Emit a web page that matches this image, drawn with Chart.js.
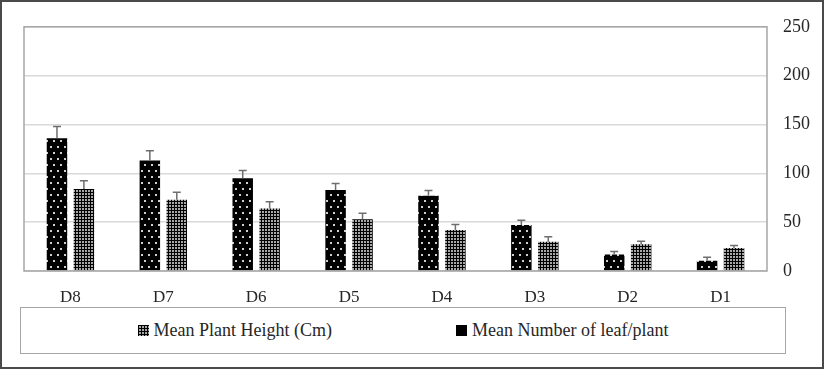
<!DOCTYPE html>
<html>
<head>
<meta charset="utf-8">
<script src="https://cdn.jsdelivr.net/npm/chart.js@4"></script>
<style>
  body { margin: 0; background: #fff; }
  #wrap { position: relative; width: 824px; height: 369px; background: #fff; }
  #chartCanvas { position: absolute; left: 0; top: 0; }
  #frame { position: absolute; inset: 0; border: 2px solid #4a4a4a; pointer-events: none; }
  #legend {
    position: absolute; left: 20px; top: 307px; width: 766px; height: 47px;
    box-sizing: border-box; border: 1.5px solid #a6a6a6;
    display: flex; align-items: center; justify-content: center; gap: 124px;
    font-family: "Liberation Serif", serif; font-size: 18px; color: #262626;
  }
  .item { display: flex; align-items: center; }
  .swatch { width: 11px; height: 11px; margin-right: 5px; display: inline-block; }
</style>
</head>
<body>
<div id="wrap">
  <canvas id="chartCanvas" width="824" height="305"></canvas>
  <div id="legend"></div>
  <div id="frame"></div>
</div>
<script>
const categories = ["D8", "D7", "D6", "D5", "D4", "D3", "D2", "D1"];
const leafLabel = "Mean Number of leaf/plant";
const leafValues = [136, 113, 95, 83, 77, 47, 17, 10.5];
const leafErrors = [12, 10, 8, 6.5, 5.5, 5, 3, 3.5];
const heightLabel = "Mean Plant Height (Cm)";
const heightValues = [84, 73, 64, 53, 42, 30, 27.5, 23.5];
const heightErrors = [8.5, 7.5, 7, 6, 5.5, 5, 3, 2.5];
const yTicks = [0, 50, 100, 150, 200, 250];

// black with sparse light dots
function dotTile() {
  const c = document.createElement("canvas");
  c.width = 7; c.height = 12;
  const g = c.getContext("2d");
  g.fillStyle = "#000"; g.fillRect(0, 0, 7, 12);
  g.fillStyle = "#d0d0d0";
  g.fillRect(1, 2, 2, 2);
  g.fillRect(4, 8, 2, 2);
  return c;
}
// fine checker: light squares on black grid
function checkTile() {
  const c = document.createElement("canvas");
  c.width = 3; c.height = 3;
  const g = c.getContext("2d");
  g.fillStyle = "#000"; g.fillRect(0, 0, 3, 3);
  g.fillStyle = "#a8a8a8"; g.fillRect(1, 1, 2, 2);
  return c;
}

const ctx = document.getElementById("chartCanvas").getContext("2d");
const dotPattern = ctx.createPattern(dotTile(), "repeat");
const checkPattern = ctx.createPattern(checkTile(), "repeat");

const errorBars = {
  id: "errorBars",
  afterDatasetsDraw(chart) {
    const { ctx, chartArea, scales } = chart;
    ctx.save();
    ctx.strokeStyle = "#a6a6a6";
    ctx.lineWidth = 1.5;
    ctx.strokeRect(chartArea.left, chartArea.top, chartArea.right - chartArea.left, chartArea.bottom - chartArea.top);

    ctx.strokeStyle = "#6e6e6e";
    ctx.lineWidth = 1.5;
    chart.data.datasets.forEach((ds, i) => {
      const meta = chart.getDatasetMeta(i);
      meta.data.forEach((bar, j) => {
        const top = scales.y.getPixelForValue(ds.data[j] + ds.errors[j]);
        ctx.beginPath();
        ctx.moveTo(bar.x, bar.y);
        ctx.lineTo(bar.x, top);
        ctx.moveTo(bar.x - 4, top);
        ctx.lineTo(bar.x + 4, top);
        ctx.stroke();
      });
    });
    ctx.restore();
  }
};

new Chart(ctx, {
  type: "bar",
  data: {
    labels: categories,
    datasets: [
      { label: leafLabel, data: leafValues, errors: leafErrors, backgroundColor: dotPattern, borderWidth: 0,
        categoryPercentage: 0.58, barPercentage: 0.76 },
      { label: heightLabel, data: heightValues, errors: heightErrors, backgroundColor: checkPattern, borderWidth: 0,
        categoryPercentage: 0.58, barPercentage: 0.76 },
    ],
  },
  options: {
    responsive: false,
    animation: false,
    devicePixelRatio: 1,
    layout: { padding: { left: 24, top: 24, right: 0, bottom: 0 } },
    plugins: { legend: { display: false }, tooltip: { enabled: false } },
    scales: {
      x: {
        grid: { display: false, drawTicks: false },
        border: { display: false },
        ticks: { color: "#262626", padding: 16, font: { family: "Liberation Serif", size: 17 } },
        afterFit: (s) => { s.height = 34; },
      },
      y: {
        position: "right",
        min: 0, max: 250,
        afterBuildTicks: (s) => { s.ticks = yTicks.map(v => ({ value: v })); },
        grid: { color: "#d9d9d9", lineWidth: 1.5, drawTicks: false },
        border: { display: false },
        ticks: { color: "#262626", padding: 16, font: { family: "Liberation Serif", size: 18 } },
        afterFit: (s) => { s.width = 57; },
      },
    },
  },
  plugins: [errorBars],
});

// legend: plant height first, then leaf count
const legend = document.getElementById("legend");
const checkUrl = checkTile().toDataURL();
legend.innerHTML = `
  <div class="item"><span class="swatch" style="background-image:url(${checkUrl})"></span>${heightLabel}</div>
  <div class="item"><span class="swatch" style="background:#000"></span>${leafLabel}</div>
`;
</script>
</body>
</html>
